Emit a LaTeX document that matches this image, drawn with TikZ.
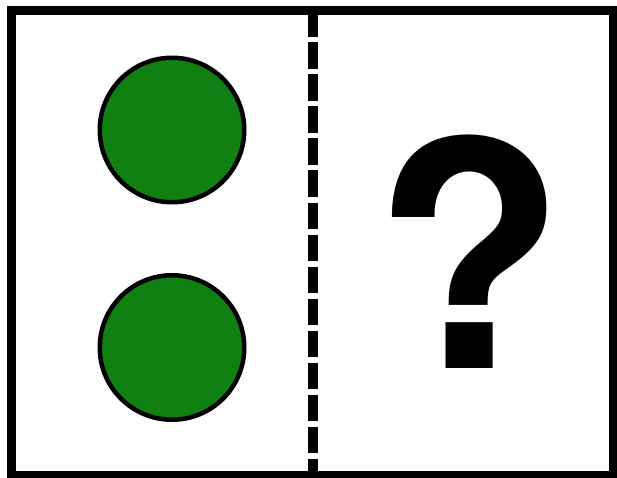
\documentclass[tikz,border=0pt]{standalone}
\usepackage{fontspec}
\setmainfont{TeX Gyre Heros}
\definecolor{dotgreen}{RGB}{16,128,18}
\begin{document}
\begin{tikzpicture}[x=1pt,y=-1pt,
  frame/.style={draw=black,line width=9pt},
  dot/.style={circle,draw=black,line width=4.5pt,fill=dotgreen,minimum size=144.5pt,inner sep=0pt},
  divider/.style={draw=black,line width=10pt,dash pattern=on 26.5pt off 5.5pt},
  qmark/.style={inner sep=0pt,font=\fontsize{314}{314}\selectfont\bfseries}]
\useasboundingbox (0,0) rectangle (617,478);
\fill[white] (0,0) rectangle (617,478);
\draw[frame] (11.5,10.5) rectangle (613.5,475.5);
\coordinate (top) at (312.8,10.5);
\coordinate (bot) at (312.8,475.5);
\draw[divider] (top) -- (bot);
\node[dot] (c1) at (172,130) {};
\node[dot] (c2) at (172,347.5) {};
\node[qmark,anchor=base] (q) at (469.5,368) {?};
\end{tikzpicture}
\end{document}
